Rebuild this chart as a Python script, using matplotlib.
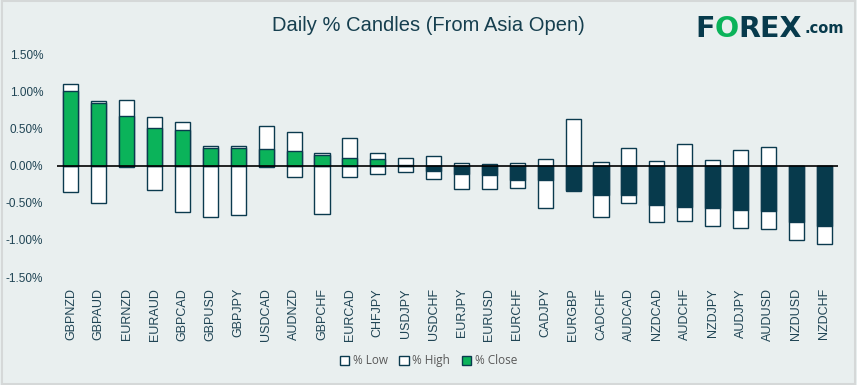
import matplotlib.pyplot as plt
import numpy as np
from matplotlib.patches import Patch, Rectangle

# Daily % candles per pair (from Asia open)
pairs = ["GBPNZD", "GBPAUD", "EURNZD", "EURAUD", "GBPCAD", "GBPUSD", "GBPJPY",
         "USDCAD", "AUDNZD", "GBPCHF", "EURCAD", "CHFJPY", "USDJPY", "USDCHF",
         "EURJPY", "EURUSD", "EURCHF", "CADJPY", "EURGBP", "CADCHF", "AUDCAD",
         "NZDCAD", "AUDCHF", "NZDJPY", "AUDJPY", "AUDUSD", "NZDUSD", "NZDCHF"]
high = [1.10, 0.87, 0.88, 0.65, 0.59, 0.26, 0.26, 0.53, 0.45, 0.17, 0.37, 0.17,
        0.10, 0.13, 0.04, 0.02, 0.04, 0.09, 0.63, 0.05, 0.24, 0.06, 0.29, 0.08,
        0.21, 0.25, 0.00, 0.00]
low = [-0.36, -0.50, -0.02, -0.33, -0.63, -0.69, -0.66, -0.02, -0.15, -0.65,
       -0.15, -0.12, -0.085, -0.18, -0.31, -0.31, -0.30, -0.57, -0.345, -0.69,
       -0.50, -0.755, -0.74, -0.82, -0.835, -0.86, -1.00, -1.05]
close = [1.00, 0.84, 0.67, 0.505, 0.48, 0.24, 0.24, 0.22, 0.20, 0.145, 0.10,
         0.09, 0.01, -0.07, -0.12, -0.13, -0.19, -0.19, -0.325, -0.39, -0.40,
         -0.535, -0.56, -0.575, -0.60, -0.615, -0.765, -0.82]

bg = "#E9EFEF"
edge = "#0B3A4E"
green = "#0BB35A"
navy = "#073A4C"
text_col = "#1F4454"

plt.rcParams['font.family'] = ['Liberation Sans', 'DejaVu Sans']

fig = plt.figure(figsize=(8.57, 3.85), dpi=100, facecolor=bg)
fig.patches.append(Rectangle((0.002, 0.003), 0.996, 0.994, transform=fig.transFigure,
                             fill=False, edgecolor="#D5D8D8", linewidth=1.5))
ax = fig.add_axes([0.0665, 0.2805, 0.9115, 0.5792])
ax.set_facecolor(bg)

x = np.arange(len(pairs))
w = 0.54
ax.bar(x, high, width=w, color="white", edgecolor=edge, linewidth=1.0, zorder=2)
ax.bar(x, low, width=w, color="white", edgecolor=edge, linewidth=1.0, zorder=2)
close_cols = [green if c >= 0 else navy for c in close]
ax.bar(x, close, width=w, color=close_cols, edgecolor=edge, linewidth=1.0, zorder=3)
ax.axhline(0, color="black", linewidth=1.2, zorder=4)

ax.set_xlim(-0.5, len(pairs) - 0.5)
ax.set_ylim(-1.5, 1.5)
ax.set_yticks([-1.5, -1.0, -0.5, 0.0, 0.5, 1.0, 1.5])
ax.set_yticklabels([f"{v:.2f}%" for v in ax.get_yticks()])
ax.set_xticks(x)
ax.set_xticklabels(pairs, rotation=90)
ax.tick_params(axis="y", length=0, pad=10, labelsize=8.5, labelcolor=text_col)
ax.tick_params(axis="x", length=0, pad=8, labelsize=9, labelcolor=text_col)
for s in ax.spines.values():
    s.set_visible(False)

fig.text(0.5, 0.935, "Daily % Candles (From Asia Open)", ha="center", va="center",
         fontsize=14.5, color="#163F4F")

# logo
t1 = fig.text(0.811, 0.905, "F", fontsize=20.5, fontweight="heavy", color=navy,
              family="DejaVu Sans", va="baseline")
t2 = ax.annotate("O", xy=(1, 0), xycoords=t1, va="bottom", fontsize=20.5,
                 fontweight="heavy", color=green, family="DejaVu Sans")
t3 = ax.annotate("REX", xy=(1, 0), xycoords=t2, va="bottom", fontsize=20.5,
                 fontweight="heavy", color=navy, family="DejaVu Sans")
ax.annotate(".com", xy=(1, 0), xycoords=t3, va="bottom", fontsize=10.5,
            fontweight="bold", color=navy, family="DejaVu Sans",
            xytext=(1.5, 4.5), textcoords="offset points")

handles = [Patch(facecolor="white", edgecolor=edge, label="% Low"),
           Patch(facecolor="white", edgecolor=edge, label="% High"),
           Patch(facecolor=green, edgecolor=edge, label="% Close")]
fig.legend(handles=handles, loc="center", bbox_to_anchor=(0.5, 0.063), ncol=3,
           frameon=False, handlelength=0.8, handleheight=0.8,
           handletextpad=0.3, columnspacing=1.0, labelcolor="#595959",
           prop={"family": "Open Sans", "size": 8.5})

fig.savefig("out.png", dpi=100, facecolor=bg)
